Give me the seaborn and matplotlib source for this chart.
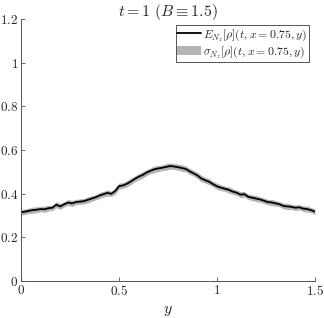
import numpy as np
import pandas as pd
import seaborn as sns
import matplotlib.pyplot as plt

# --- data ---
y_grid = np.round(np.arange(0, 1.501, 0.02), 2)
mean_rho = [0.315, 0.318, 0.322, 0.325, 0.327, 0.330, 0.329, 0.334, 0.336, 0.350,
            0.342, 0.352, 0.360, 0.356, 0.362, 0.364, 0.366, 0.372, 0.378, 0.384,
            0.392, 0.398, 0.404, 0.400, 0.412, 0.435, 0.438, 0.446, 0.456, 0.468,
            0.478, 0.486, 0.497, 0.505, 0.512, 0.516, 0.519, 0.523, 0.527, 0.525,
            0.522, 0.518, 0.514, 0.503, 0.494, 0.484, 0.470, 0.462, 0.455, 0.444,
            0.434, 0.428, 0.423, 0.418, 0.410, 0.405, 0.396, 0.398, 0.386, 0.382,
            0.378, 0.374, 0.368, 0.362, 0.360, 0.356, 0.352, 0.344, 0.342, 0.340,
            0.336, 0.338, 0.332, 0.330, 0.325, 0.318]
sigma_rho = [0.012, 0.013, 0.012, 0.014, 0.013, 0.012, 0.014, 0.013, 0.012, 0.014,
             0.013, 0.012, 0.013, 0.014, 0.012, 0.013, 0.012, 0.014, 0.013, 0.012,
             0.014, 0.013, 0.014, 0.012, 0.015, 0.014, 0.013, 0.014, 0.015, 0.013,
             0.014, 0.015, 0.014, 0.013, 0.015, 0.014, 0.013, 0.015, 0.014, 0.013,
             0.014, 0.015, 0.013, 0.014, 0.013, 0.014, 0.015, 0.013, 0.014, 0.013,
             0.014, 0.013, 0.012, 0.014, 0.013, 0.012, 0.014, 0.013, 0.012, 0.013,
             0.014, 0.012, 0.013, 0.012, 0.014, 0.013, 0.012, 0.013, 0.014, 0.012,
             0.013, 0.012, 0.013, 0.014, 0.012, 0.013]
x_ticks = [0, 0.5, 1, 1.5]
y_ticks = [0, 0.2, 0.4, 0.6, 0.8, 1, 1.2]

df = pd.DataFrame({'y': y_grid, 'mean': mean_rho, 'sigma': sigma_rho})

# %%
sns.set_style("white")
plt.rcParams['mathtext.fontset'] = 'cm'
plt.rcParams['font.family'] = ['DejaVu Serif']

fig = plt.figure(figsize=(3.24, 3.18), dpi=100)
ax = fig.add_axes([0.065, 0.116, 0.907, 0.824])

ax.fill_between(df['y'], df['mean'] - df['sigma'], df['mean'] + df['sigma'],
                color='#b3b3b3', lw=0, label=r'$\sigma_{N_z}[\rho](t,x=0.75,y)$')
sns.lineplot(data=df, x='y', y='mean', ax=ax, color='black', lw=1.3,
             label=r'$E_{N_z}[\rho](t,x=0.75,y)$')

ax.set_xlim(0, 1.5); ax.set_ylim(0, 1.2)
ax.set_xticks(x_ticks); ax.set_yticks(y_ticks)
ax.set_xticklabels([f'${v:g}$' for v in x_ticks], fontsize=9.5)
ax.set_yticklabels([f'${v:g}$' for v in y_ticks], fontsize=9.5)
ax.tick_params(direction='in', length=3, color='#555555', width=0.6,
               bottom=True, left=True, pad=2)
for s in ['top', 'right']:
    ax.spines[s].set_visible(False)
for s in ['left', 'bottom']:
    ax.spines[s].set_color('#555555'); ax.spines[s].set_linewidth(0.7)

ax.set_xlabel(r'$y$', fontsize=11.5, labelpad=2)
ax.set_ylabel('')
ax.set_title(r'$t=1\ (B\equiv 1.5)$', fontsize=11.5, pad=2)

h, l = ax.get_legend_handles_labels()
leg = ax.legend(h[::-1], l[::-1], loc='upper right', fontsize=8.5, fancybox=False,
                framealpha=1, edgecolor='#555555', borderpad=0.15, handlelength=2.0,
                handletextpad=0.2, labelspacing=0.15, borderaxespad=0.5)
leg.get_frame().set_linewidth(0.7)

fig.savefig('out.png', dpi=100)
